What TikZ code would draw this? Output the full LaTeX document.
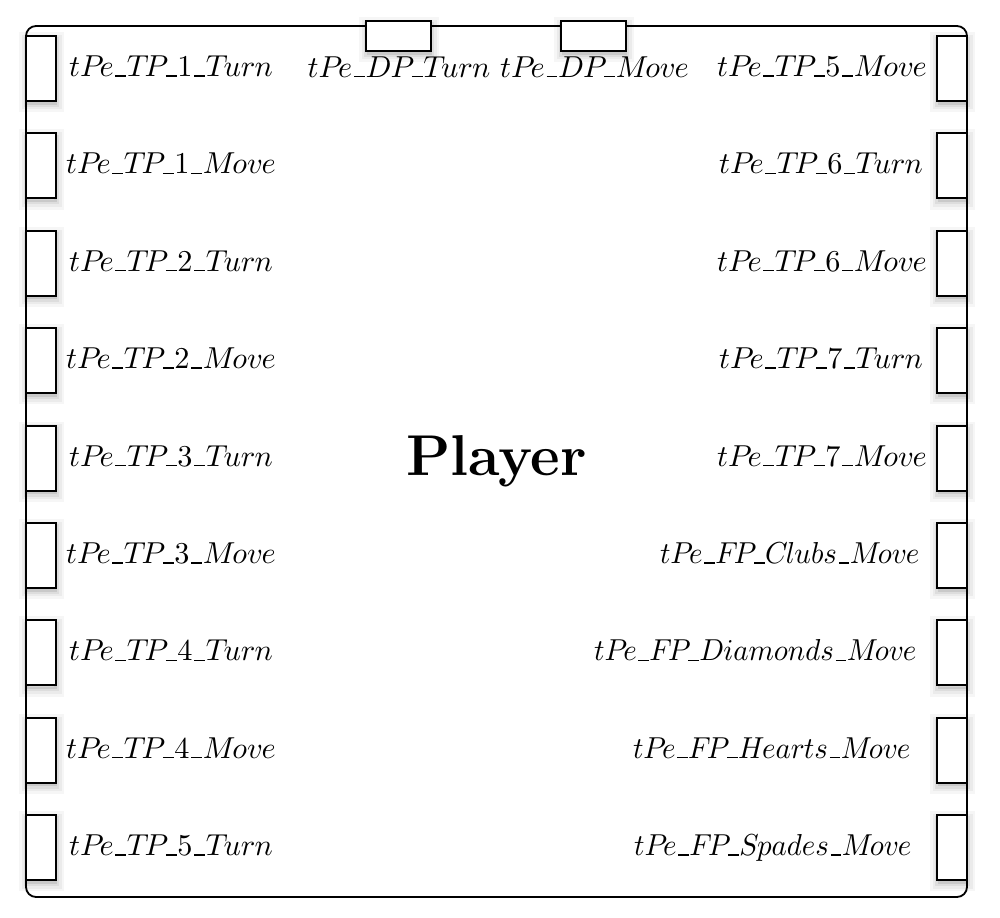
\documentclass[tikz,border=0pt]{standalone}
\usepackage{graphicx}
\newcommand\ul{\kern.06em\vbox{\hrule width .36em}\kern.02em}
\newcommand\dg[1]{{\normalfont #1}}
\newcommand\mifont{\usefont{OML}{cmm}{m}{it}}
\begin{document}
\begin{tikzpicture}[x=0.33pt,y=-0.33pt,
  soft/.style={
    preaction={draw=black,opacity=0.035,line width=5pt,transform canvas={xshift=0.3pt,yshift=-1.2pt}},
    preaction={draw=black,opacity=0.045,line width=3.2pt,transform canvas={xshift=0.3pt,yshift=-1.2pt}},
    preaction={draw=black,opacity=0.06,line width=1.6pt,transform canvas={xshift=0.3pt,yshift=-1.2pt}},
    preaction={fill=black,opacity=0.09,transform canvas={xshift=0.3pt,yshift=-1.2pt}}},
  vport/.style={soft,draw,fill=white,line width=0.6pt,inner sep=0pt,minimum width=30*0.33pt,minimum height=65*0.33pt},
  hport/.style={soft,draw,fill=white,line width=0.6pt,inner sep=0pt,minimum width=65*0.33pt,minimum height=30*0.33pt},
  lbl/.style={inner sep=0pt,font=\normalsize\mifont},
  mainbox/.style={draw,line width=0.6pt,rounded corners=3.3pt,inner sep=0pt,minimum width=941*0.33pt,minimum height=871*0.33pt,font=\fontsize{19}{23}\selectfont\bfseries}]
\useasboundingbox (0,0) rectangle (1000,918);
\node[mainbox] (player) at (496.5,461.5) {Player};
% top ports
\node[hport] (dpturn) at (398.5,36) {};
\node[hport] (dpmove) at (593.5,36) {};
\node[lbl,anchor=base] (ldpturn) at (399,77) {tPe\ul DP\ul Turn};
\node[lbl,anchor=base] (ldpmove) at (594.5,77) {tPe\ul DP\ul Move};
% left ports
\foreach \i/\t in {0/TP\ul\dg{1}\ul Turn,1/TP\ul\dg{1}\ul Move,2/TP\ul\dg{2}\ul Turn,3/TP\ul\dg{2}\ul Move,4/TP\ul\dg{3}\ul Turn,5/TP\ul\dg{3}\ul Move,6/TP\ul\dg{4}\ul Turn,7/TP\ul\dg{4}\ul Move,8/TP\ul\dg{5}\ul Turn}{
  \node[vport] (lp\i) at (41,68.5+97.4*\i) {};
  \node[lbl,anchor=base] (ll\i) at (171,76.5+97.4*\i) {tPe\ul\t};
}
% right ports
\foreach \i/\t/\xx in {0/TP\ul\dg{5}\ul Move/822,1/TP\ul\dg{6}\ul Turn/821,2/TP\ul\dg{6}\ul Move/822,3/TP\ul\dg{7}\ul Turn/821,4/TP\ul\dg{7}\ul Move/822}{
  \node[vport] (rp\i) at (952,68.5+97.4*\i) {};
  \node[lbl,anchor=base] (rl\i) at (\xx,76.5+97.4*\i) {tPe\ul\t};
}
\foreach \i/\t/\xx in {5/FP\ul Clubs\ul Move/920,6/FP\ul Diamonds\ul Move/917,7/FP\ul Hearts\ul Move/911,8/FP\ul Spades\ul Move/912}{
  \node[vport] (rp\i) at (952,68.5+97.4*\i) {};
  \node[lbl,anchor=base east] (rl\i) at (\xx,76.5+97.4*\i) {\scalebox{0.955}[1]{tPe\ul\t}};
}
\end{tikzpicture}
\end{document}
